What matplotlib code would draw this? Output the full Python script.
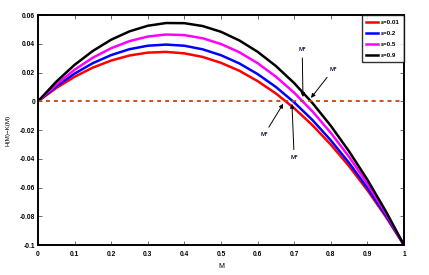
import numpy as np
import matplotlib
matplotlib.use('Agg')
import matplotlib.pyplot as plt

plt.rcParams['font.family'] = ['Liberation Sans Narrow', 'Liberation Sans', 'DejaVu Sans']
plt.rcParams['font.weight'] = 'bold'

# values
M = [0, 0.05, 0.1, 0.15, 0.2, 0.25, 0.3, 0.35, 0.4, 0.45, 0.5,
     0.55, 0.6, 0.65, 0.7, 0.75, 0.8, 0.85, 0.9, 0.95, 1.0]
eps_001 = [0, 0.0093, 0.0171, 0.0235, 0.0284, 0.0319, 0.0339, 0.0344, 0.0334, 0.0309, 0.0268,
           0.0213, 0.0141, 0.0055, -0.0048, -0.0166, -0.0301, -0.0451, -0.0618, -0.0801, -0.1]
eps_02 = [0, 0.0105, 0.0193, 0.0266, 0.0322, 0.0363, 0.0387, 0.0395, 0.0387, 0.0362, 0.0321,
          0.0264, 0.0190, 0.0100, -0.0007, -0.0130, -0.0271, -0.0428, -0.0602, -0.0792, -0.1]
eps_05 = [0, 0.0118, 0.0220, 0.0304, 0.0370, 0.0419, 0.0451, 0.0465, 0.0461, 0.0439, 0.0399,
          0.0342, 0.0266, 0.0172, 0.0060, -0.0070, -0.0219, -0.0386, -0.0572, -0.0777, -0.1]
eps_09 = [0, 0.0137, 0.0254, 0.0351, 0.0429, 0.0487, 0.0526, 0.0545, 0.0544, 0.0524, 0.0484,
          0.0424, 0.0345, 0.0246, 0.0127, -0.0012, -0.0170, -0.0348, -0.0545, -0.0763, -0.1]
labels = ['ε=0.01', 'ε=0.2', 'ε=0.5', 'ε=0.9']
colors = ['#ff0000', '#0000ff', '#ff00ff', '#000000']

# M* annotations: (text position, arrow tip)
star_text = [(0.722, 0.0358), (0.806, 0.0219), (0.618, -0.0233), (0.700, -0.0392)]
star_tip = [(0.724, 0.0030), (0.746, 0.0024), (0.670, -0.0017), (0.694, -0.0017)]

fig = plt.figure(figsize=(4.29, 2.75), dpi=100)
ax = fig.add_axes([0.0886, 0.109, 0.853, 0.836])

for ys, lab, c in zip([eps_001, eps_02, eps_05, eps_09], labels, colors):
    ax.plot(M, ys, color=c, lw=1.8, label=lab)

ax.plot([0, 1], [0, 0], color='#b8480f', lw=1.3, ls=(0, (2.2, 2.2)))

for (tx, ty), (px, py) in zip(star_text, star_tip):
    ax.annotate('M*', xy=(px, py), xytext=(tx, ty), fontsize=4.5, color='#1a1a40',
                ha='center', va='center',
                arrowprops=dict(arrowstyle='-|>', color='black', lw=0.7,
                                mutation_scale=6, shrinkA=2, shrinkB=0))

ax.set_xlim(0, 1)
ax.set_ylim(-0.1, 0.06)
ax.set_xticks(np.arange(0, 1.01, 0.1))
ax.set_xticklabels(['0', '0.1', '0.2', '0.3', '0.4', '0.5', '0.6', '0.7', '0.8', '0.9', '1'])
ax.set_yticks(np.arange(-0.1, 0.061, 0.02))
ax.set_yticklabels(['-0.1', '-0.08', '-0.06', '-0.04', '-0.02', '0', '0.02', '0.04', '0.06'])
ax.tick_params(direction='in', top=True, right=True, labelsize=4.8, length=3, width=0.6,
               colors='#555555', labelcolor='black')
ax.tick_params(axis='x', pad=4)
ax.tick_params(axis='y', pad=2)
for s in ax.spines.values():
    s.set_linewidth(1.4)

ax.set_xlabel('M', fontsize=5, labelpad=4)
ax.set_ylabel('H(M)−K(M)', fontsize=4.5, labelpad=7)

leg = ax.legend(loc='upper right', fontsize=4.5, frameon=True, fancybox=False,
                edgecolor='black', borderaxespad=0, handlelength=1.8, handletextpad=0.5,
                labelspacing=0.9, borderpad=0.7)
leg.get_frame().set_linewidth(1.0)

fig.savefig('out.png', dpi=100)
